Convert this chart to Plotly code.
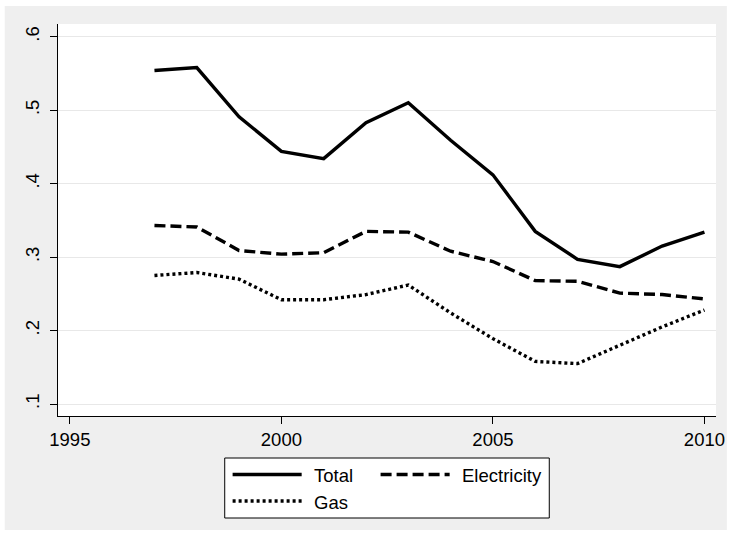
import plotly.graph_objects as go

# Annual values by energy type
years = [1997, 1998, 1999, 2000, 2001, 2002, 2003, 2004, 2005, 2006, 2007, 2008, 2009, 2010]
total = [0.554, 0.558, 0.491, 0.444, 0.434, 0.483, 0.510, 0.459, 0.412, 0.335, 0.297, 0.287, 0.315, 0.334]
electricity = [0.343, 0.341, 0.309, 0.304, 0.306, 0.335, 0.334, 0.308, 0.294, 0.268, 0.267, 0.251, 0.249, 0.243]
gas = [0.275, 0.279, 0.270, 0.242, 0.242, 0.249, 0.262, 0.224, 0.189, 0.158, 0.155, 0.180, 0.205, 0.228]

series_names = ["Total", "Electricity", "Gas"]

x_tickvals = [1995, 2000, 2005, 2010]
x_ticktext = ["1995", "2000", "2005", "2010"]
y_tickvals = [0.1, 0.2, 0.3, 0.4, 0.5, 0.6]
y_ticktext = [".1", ".2", ".3", ".4", ".5", ".6"]

W, H = 737, 535
M_L, M_R, M_T, M_B = 58, 12, 24, 119
PW = W - M_L - M_R
PH = H - M_T - M_B

FONT = "Liberation Sans, Arial, sans-serif"
FS = 18.5
styles = {
    "Total": dict(color="black", width=3.4, dash="solid"),
    "Electricity": dict(color="black", width=3.4, dash="11px,5px"),
    "Gas": dict(color="black", width=3.4, dash="3px,3px"),
}


def px_x(px):
    return (px - M_L) / PW


def px_y(py):
    return (H - M_B - py) / PH


fig = go.Figure()
for name, vals in zip(series_names, [total, electricity, gas]):
    fig.add_trace(go.Scatter(x=years, y=vals, mode="lines", name=name,
                             line=styles[name], showlegend=False))

shapes = [
    # grey graph region
    dict(type="rect", xref="paper", yref="paper", layer="below",
         x0=px_x(4), x1=px_x(736), y0=px_y(530), y1=px_y(6),
         fillcolor="#efefef", line=dict(width=0)),
    # white plot region
    dict(type="rect", xref="paper", yref="paper", layer="below",
         x0=0, x1=1, y0=0, y1=1, fillcolor="white", line=dict(width=0)),
    # legend box
    dict(type="rect", xref="paper", yref="paper",
         x0=px_x(227), x1=px_x(556), y0=px_y(518), y1=px_y(458),
         fillcolor="white", line=dict(color="black", width=1)),
]

annotations = []
legend_items = [("Total", 235, 474.5), ("Electricity", 385, 474.5), ("Gas", 235, 501)]
for name, lx, ly in legend_items:
    st = styles[name]
    shapes.append(dict(type="line", xref="paper", yref="paper",
                       x0=px_x(lx), x1=px_x(lx + 70), y0=px_y(ly), y1=px_y(ly),
                       line=dict(color="black", width=st["width"], dash=st["dash"])))
    annotations.append(dict(text=name, xref="paper", yref="paper",
                            x=px_x(lx + 80), y=px_y(ly + 1), xanchor="left", yanchor="middle",
                            showarrow=False, font=dict(family=FONT, size=FS, color="black")))

fig.update_layout(
    width=W, height=H,
    margin=dict(l=M_L, r=M_R, t=M_T, b=M_B, pad=0),
    paper_bgcolor="white",
    plot_bgcolor="rgba(0,0,0,0)",
    font=dict(family=FONT, size=FS, color="black"),
    shapes=shapes,
    annotations=annotations,
    showlegend=False,
    xaxis=dict(range=[1994.72, 2010.273], tickvals=x_tickvals, ticktext=x_ticktext,
               showgrid=False, zeroline=False, showline=True, linecolor="black", linewidth=1,
               ticks="outside", ticklen=7, tickcolor="black", tickwidth=1,
               tickfont=dict(family=FONT, size=FS, color="black")),
    yaxis=dict(range=[0.0837, 0.6173], tickvals=y_tickvals, ticktext=y_ticktext,
               showgrid=True, gridcolor="#e8e8e8", gridwidth=1, zeroline=False,
               showline=True, linecolor="black", linewidth=1,
               ticks="outside", ticklen=7, tickcolor="black", tickwidth=1, tickangle=-90,
               ticklabelstandoff=4,
               tickfont=dict(family=FONT, size=FS, color="black")),
)

fig.write_html("out.html")
